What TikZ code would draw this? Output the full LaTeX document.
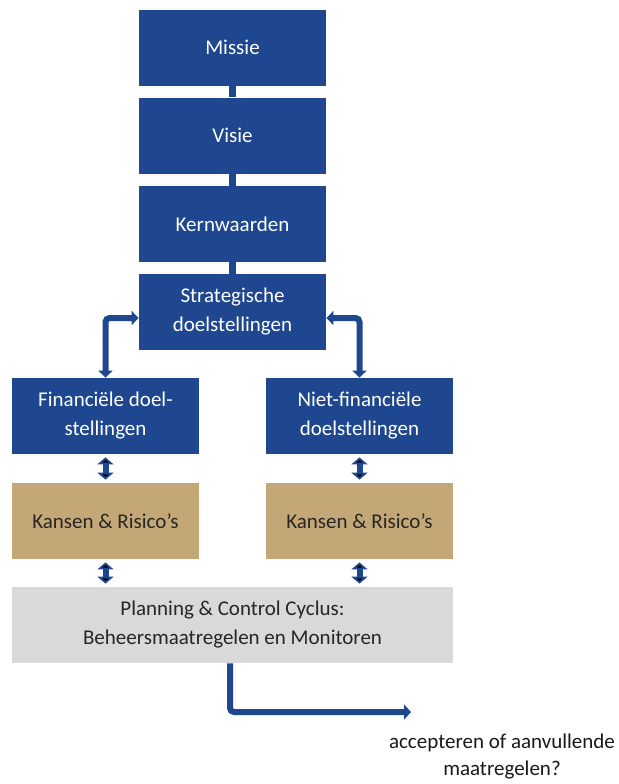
\documentclass[tikz,border=0pt]{standalone}
\usepackage{fontspec}
\setmainfont{Carlito}
\usetikzlibrary{arrows.meta}

\definecolor{navy}{RGB}{30,71,143}
\definecolor{tan}{RGB}{196,167,118}
\definecolor{pale}{RGB}{217,217,217}

\tikzset{
  goal/.style={fill=navy,text=white,minimum width=93.5pt,minimum height=38pt,inner sep=0pt,align=center,
    font=\fontsize{10.5}{14.5}\selectfont},
  risk/.style={goal,fill=tan,text=black!85},
  pcbox/.style={goal,fill=pale,text=black!85,minimum width=220.5pt},
  link/.style={draw=navy,line width=3.5pt},
  dbl/.style={draw=navy,line width=3pt,{Triangle[width=8pt,length=3.5pt]}-{Triangle[width=8pt,length=3.5pt]},
    shorten <=1.5pt,shorten >=1.5pt},
  bent/.style={draw=navy,line width=3pt,rounded corners=2pt,{Triangle[width=7pt,length=3.5pt]}-{Triangle[width=7pt,length=3.5pt]}},
  outarrow/.style={draw=navy,line width=3pt,rounded corners=2pt,-{Triangle[width=7.5pt,length=3.5pt]}}
}

\begin{document}
\begin{tikzpicture}[x=0.5pt,y=-0.5pt]
        \useasboundingbox (0,0) rectangle (619,784);

        \node[goal] at (232.5,47.5) (missie) {Missie};
        \node[goal] at (232.5,135.5) (visie) {Visie};
        \node[goal] at (232.5,224) (kern) {Kernwaarden};
        \node[goal] at (232.5,312) (strat) {Strategische\\doelstellingen};

        \node[goal] at (105.5,416) (fin) {Financiële doel-\\stellingen};
        \node[goal] at (359.5,416) (niet) {Niet-financiële\\doelstellingen};

        \node[risk] at (105.5,521) (kansL) {Kansen \& Risico’s};
        \node[risk] at (359.5,521) (kansR) {Kansen \& Risico’s};

        \node[pcbox] at (232.5,625) (plan) {Planning \& Control Cyclus:\\Beheersmaatregelen en Monitoren};

        \node[align=center,text=black!90,font=\fontsize{10.5}{13.5}\selectfont] at (502,757) (vraag) {accepteren of aanvullende\\maatregelen?};

        \coordinate (turn) at (230,712);
        \coordinate (exit) at (411,712);

        \path[link]
        (missie) edge (visie)
        (visie) edge (kern)
        (kern) edge (strat)
        ;

        \path[dbl]
        (fin) edge (kansL)
        (niet) edge (kansR)
        (kansL) edge (kansL |- plan.north)
        (kansR) edge (kansR |- plan.north)
        ;

        \draw[bent] ([yshift=-3pt]strat.west) -| (fin.north);
        \draw[bent] ([yshift=-3pt]strat.east) -| (niet.north);

        \draw[outarrow] (plan.south -| turn) -- (turn) -- (exit);
    \end{tikzpicture}
\end{document}
